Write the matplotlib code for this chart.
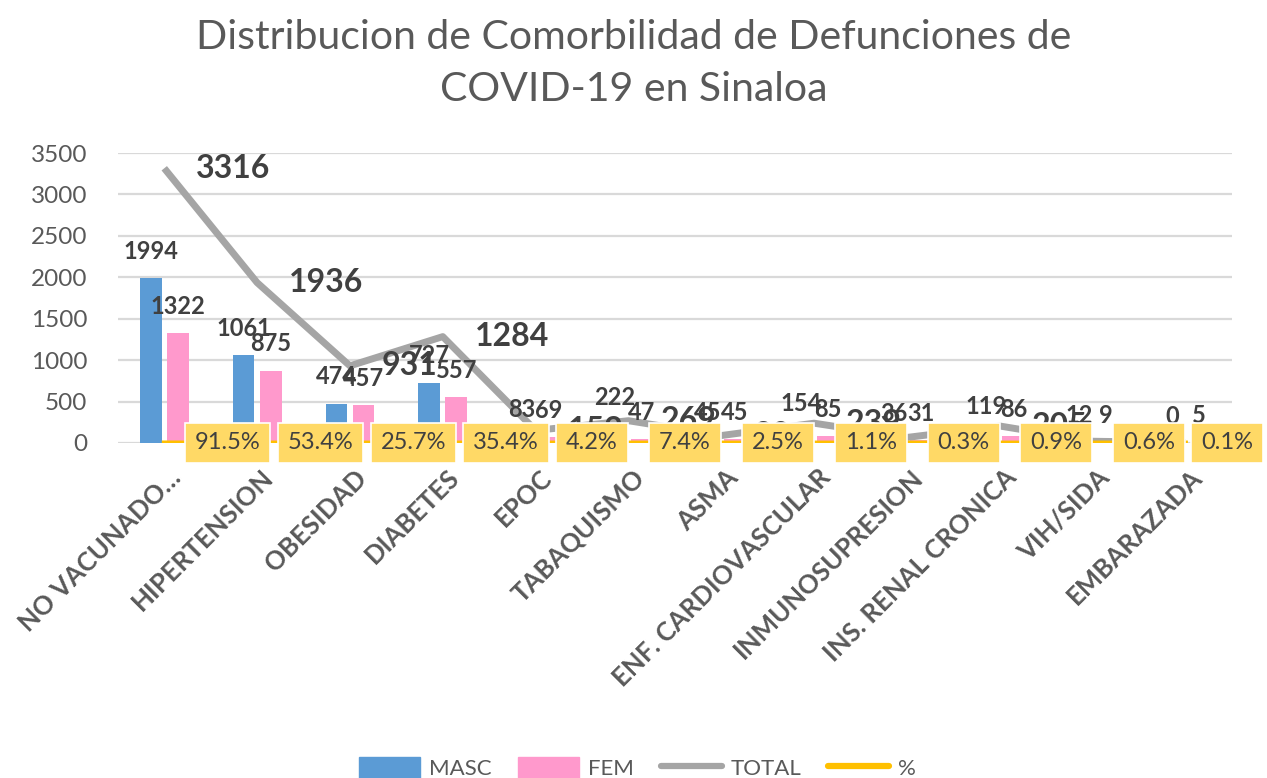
import matplotlib
matplotlib.use("Agg")
import matplotlib.pyplot as plt
from matplotlib.lines import Line2D
from matplotlib.patches import Patch
from matplotlib.transforms import ScaledTranslation
import numpy as np

categorias = ["NO VACUNADO…", "HIPERTENSION", "OBESIDAD", "DIABETES", "EPOC",
              "TABAQUISMO", "ASMA", "ENF. CARDIOVASCULAR", "INMUNOSUPRESION",
              "INS. RENAL CRONICA", "VIH/SIDA", "EMBARAZADA"]
masc = [1994, 1061, 474, 727, 83, 222, 45, 154, 36, 119, 12, 0]
fem = [1322, 875, 457, 557, 69, 47, 45, 85, 31, 86, 9, 5]
total = [3316, 1936, 931, 1284, 152, 269, 90, 239, 67, 205, 21, 5]
porcentaje = [0.915, 0.534, 0.257, 0.354, 0.042, 0.074, 0.025, 0.011, 0.003, 0.009, 0.006, 0.001]

AZUL = "#5B9BD5"
ROSA = "#FF99CC"
GRIS = "#A5A5A5"
AMARILLO = "#FFC000"
CAJA = "#FFD966"
TEXTO = "#595959"
OSCURO = "#404040"

plt.rcParams["font.family"] = ["Lato", "DejaVu Sans"]

fig = plt.figure(figsize=(12.67, 7.78), dpi=100)
ax = fig.add_axes([0.093, 0.4306, 0.8793, 0.3727])

x = np.arange(len(categorias))
w = 0.235
gap = 0.028
b1 = ax.bar(x - w / 2 - gap, masc, w, color=AZUL, zorder=2)
b2 = ax.bar(x + w / 2 + gap, fem, w, color=ROSA, zorder=2)
ax.plot(x, total, color=GRIS, lw=5, zorder=3, solid_capstyle="butt")
ax.plot(x, porcentaje, color=AMARILLO, lw=3.5, zorder=3)

# value labels above each bar
for rects, vals in ((b1, masc), (b2, fem)):
    for r, v in zip(rects, vals):
        ax.annotate(str(v), (r.get_x() + r.get_width() / 2, v), xytext=(0, 11),
                    textcoords="offset points", ha="center", va="bottom",
                    fontsize=17, fontweight="bold", color=OSCURO, zorder=4)

for xi, v in zip(x, total):
    ax.annotate(str(v), (xi, v), xytext=(23, 0), textcoords="offset points",
                ha="left", va="center", fontsize=23, fontweight="bold",
                color=OSCURO, zorder=4)

etiquetas_pct = []
for xi, p in zip(x, porcentaje):
    t = ax.annotate(f"{p * 100:.1f}%", (xi, p), xytext=(22, 0), textcoords="offset points",
                    ha="left", va="center", fontsize=17, color=OSCURO, zorder=6,
                    bbox=dict(boxstyle="square,pad=0.42", fc=CAJA, ec="white", lw=1.2))
    etiquetas_pct.append(t)

ax.set_xlim(-0.5, len(categorias) - 0.5)
ax.set_ylim(0, 3500)
ax.set_yticks(range(0, 3501, 500))
ax.yaxis.grid(True, color="#D9D9D9", lw=1.6, zorder=0)
ax.set_axisbelow(True)
for s in ax.spines.values():
    s.set_visible(False)
ax.tick_params(axis="y", length=0, pad=22, labelsize=17.5, labelcolor=TEXTO)
ax.tick_params(axis="x", length=0, pad=16)
ax.set_xticks(x)
ax.set_xticklabels(categorias, rotation=45, ha="right", rotation_mode="anchor",
                   fontsize=18.5, fontweight="bold", color=TEXTO)
desplaza = ScaledTranslation(4 / 100, 0, fig.dpi_scale_trans)
for lbl in ax.get_xticklabels():
    lbl.set_transform(lbl.get_transform() + desplaza)

fig.text(0.5, 0.919, "Distribucion de Comorbilidad de Defunciones de\nCOVID-19 en Sinaloa",
         ha="center", va="center", fontsize=29.5, color=TEXTO, linespacing=1.5)

handles = [Patch(color=AZUL), Patch(color=ROSA),
           Line2D([], [], color=GRIS, lw=4.5, solid_capstyle="round"),
           Line2D([], [], color=AMARILLO, lw=4.5, solid_capstyle="round")]
fig.legend(handles, ["MASC", "FEM", "TOTAL", "%"], loc="center", ncol=4,
           bbox_to_anchor=(0.503, 0.013), frameon=False, fontsize=16,
           labelcolor=TEXTO, handlelength=2.75, handleheight=1.1,
           handletextpad=0.4, columnspacing=1.2)

# pull any percentage box that runs past the right edge back inside the figure
fig.canvas.draw()
renderer = fig.canvas.get_renderer()
for t in etiquetas_pct:
    caja = t.get_bbox_patch().get_window_extent(renderer)
    exceso = caja.x1 - (fig.bbox.width - 4)
    if exceso > 0:
        dx, dy = t.xyann
        t.xyann = (dx - exceso * 72 / fig.dpi, dy)

fig.savefig("out.png", dpi=100)
